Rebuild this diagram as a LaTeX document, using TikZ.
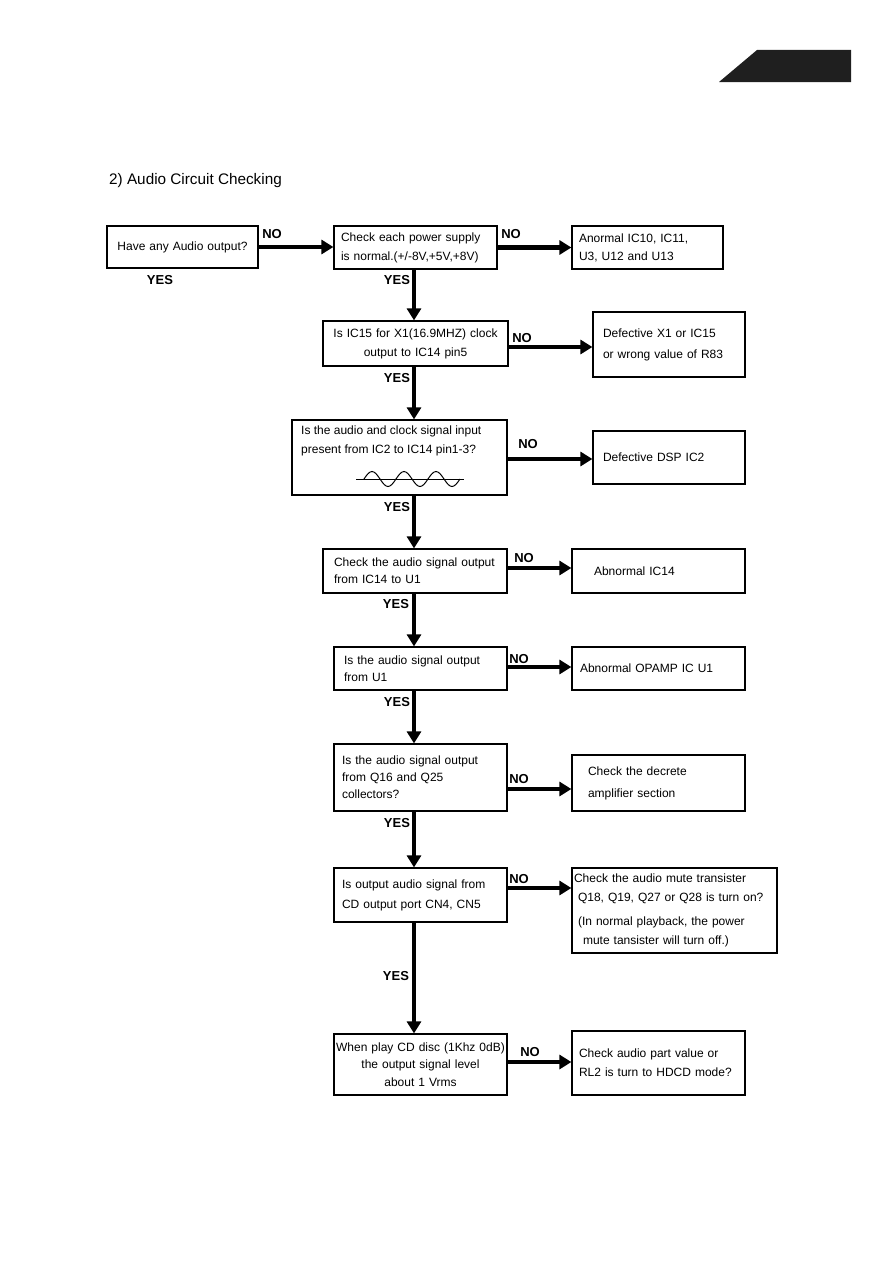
\documentclass[tikz,border=0pt]{standalone}
\usepackage{fontspec}
\setmainfont{Liberation Sans}
\usepackage{tikz}
\usetikzlibrary{arrows.meta, calc}

\begin{document}
\begin{tikzpicture}[
        x=1pt, y=-1pt,
        box/.style={draw, rectangle, line width=1.2pt, align=left, inner ysep=0pt, font=\fontsize{12}{18}\selectfont},
        ctrbox/.style={box, align=center},
        flow/.style={-{Triangle[length=12pt, width=14pt]}, line width=4.5pt},
        ans/.style={font=\fontsize{13}{13}\selectfont\bfseries, inner sep=0pt},
        title/.style={font=\fontsize{15.3}{18}\selectfont, inner sep=0pt}
    ]
    \useasboundingbox (0,0) rectangle (893,1263);

    % --- page tab and heading ---
    \fill[black!88] (719,82) -- (757,50) -- (851,50) -- (851,82) -- cycle;
    \node[title, anchor=base west] (heading) at (109,184) {2) Audio Circuit Checking};
    \coordinate (spine) at (414,0);

    % --- power ---
    \node[ctrbox, text width=141pt, inner xsep=5pt, minimum height=42pt] (anyout) at (182.5,247) {Have any Audio output?};
    \node[box, text width=149pt, inner xsep=7pt, minimum height=43pt, font=\fontsize{12}{19}\selectfont] (chkpwr) at (415.5,247.5) {Check each power supply\\is normal.(+/-8V,+5V,+8V)};
    \node[box, text width=137pt, inner xsep=7pt, minimum height=43pt] (badpwr) at (647.5,247.5) {Anormal IC10, IC11,\\U3, U12 and U13};
    \draw[flow] (anyout.east) -- (anyout.east -| chkpwr.west);
    \draw[flow] (chkpwr.east) -- (chkpwr.east -| badpwr.west);
    \node[ans] (no1) at (272,234) {NO};
    \node[ans] (no2) at (511,234) {NO};
    \node[ans] (yes0) at (160,280) {YES};
    \node[ans] (yes1) at (397,280) {YES};

    % --- clock ---
    \node[ctrbox, text width=173pt, inner xsep=6pt, minimum height=45pt, font=\fontsize{12}{19}\selectfont] (clkout) at (415.5,343.5) {Is IC15 for X1(16.9MHZ) clock\\output to IC14 pin5};
    \node[box, text width=132pt, inner xsep=10pt, minimum height=65pt, font=\fontsize{12}{21}\selectfont] (badclk) at (669,344.5) {Defective X1 or IC15\\or wrong value of R83};
    \draw[flow] (chkpwr.south -| spine) -- (clkout.north -| spine);
    \draw[flow] ([yshift=-3.5pt]clkout.east) -- ([yshift=-3.5pt]clkout.east -| badclk.west);
    \node[ans] (no3) at (522,338) {NO};
    \node[ans] (yes2) at (397,378) {YES};

    % --- signal input ---
    \node[box, minimum width=215pt, minimum height=75pt] (sigin) at (399.5,457.5) {};
    \node[anchor=north west, align=left, inner sep=0pt, font=\fontsize{12}{19}\selectfont] (sigintxt) at (301,426) {Is the audio and clock signal input\\present from IC2 to IC14 pin1-3?};
    \draw[line width=1pt] (356,479) -- (464,479);
    \foreach \k in {0,1,2}
        \draw[line width=1pt] (364+32*\k,479) sin ++(8,-7.5) cos ++(8,7.5) sin ++(8,7.5) cos ++(8,-7.5);
    \node[box, text width=132pt, inner xsep=10pt, minimum height=53pt] (baddsp) at (669,457.5) {Defective DSP IC2};
    \draw[flow] (clkout.south -| spine) -- (sigin.north -| spine);
    \draw[flow] ([yshift=-1.5pt]sigin.east) -- ([yshift=-1.5pt]sigin.east -| baddsp.west);
    \node[ans] (no4) at (528,444) {NO};
    \node[ans] (yes3) at (397,507) {YES};

    % --- IC14 output ---
    \node[box, text width=162pt, inner xsep=11pt, minimum height=44pt, font=\fontsize{12}{17}\selectfont] (sigout) at (415,571) {Check the audio signal output\\from IC14 to U1};
    \node[box, text width=129pt, inner xsep=22pt, minimum height=44pt] (badic) at (658.5,571) {Abnormal IC14};
    \draw[flow] (sigin.south -| spine) -- (sigout.north -| spine);
    \draw[flow] ([yshift=3pt]sigout.east) -- ([yshift=3pt]sigout.east -| badic.west);
    \node[ans] (no5) at (524,558) {NO};
    \node[ans] (yes4) at (396,604) {YES};

    % --- U1 output ---
    \node[box, text width=153pt, inner xsep=10pt, minimum height=43pt, font=\fontsize{12}{17}\selectfont] (opout) at (420.5,668.5) {Is the audio signal output\\from U1};
    \node[box, text width=157pt, inner xsep=8pt, minimum height=43pt] (badop) at (658.5,668.5) {Abnormal OPAMP IC U1};
    \draw[flow] (sigout.south -| spine) -- (opout.north -| spine);
    \draw[flow] ([yshift=1.5pt]opout.east) -- ([yshift=1.5pt]opout.east -| badop.west);
    \node[ans] (no6) at (519,659) {NO};
    \node[ans] (yes5) at (397,702) {YES};

    % --- collectors ---
    \node[box, text width=157pt, inner xsep=8pt, minimum height=67pt, font=\fontsize{12}{17}\selectfont] (colout) at (420.5,777.5) {Is the audio signal output\\from Q16 and Q25\\collectors?};
    \node[box, text width=141pt, inner xsep=16pt, minimum height=56pt, font=\fontsize{12}{22}\selectfont] (discamp) at (658.5,783) {Check the decrete\\amplifier section};
    \draw[flow] (opout.south -| spine) -- (colout.north -| spine);
    \draw[flow] ([yshift=-11.5pt]colout.east) -- ([yshift=-11.5pt]colout.east -| discamp.west);
    \node[ans] (no7) at (519,779) {NO};
    \node[ans] (yes6) at (397,823) {YES};

    % --- output port ---
    \node[box, text width=157pt, inner xsep=8pt, minimum height=54pt, font=\fontsize{12}{20}\selectfont] (cnout) at (420.5,895) {Is output audio signal from\\CD output port CN4, CN5};
    \node[box, text width=201pt, inner xsep=2pt, minimum height=85pt, font=\fontsize{12}{19.5}\selectfont] (mute) at (674.5,910.5) {Check the audio mute transister\\\hspace*{4pt}Q18, Q19, Q27 or Q28 is turn on?\\[4pt]\hspace*{4pt}(In normal playback, the power\\\hspace*{9pt}mute tansister will turn off.)};
    \draw[flow] (colout.south -| spine) -- (cnout.north -| spine);
    \draw[flow] ([yshift=7pt]cnout.east) -- ([yshift=7pt]cnout.east -| mute.west);
    \node[ans] (no8) at (519,879) {NO};
    \node[ans] (yes7) at (396,976) {YES};

    % --- output level ---
    \node[ctrbox, text width=169pt, inner xsep=2pt, minimum height=61pt, font=\fontsize{12}{17.5}\selectfont] (level) at (420.5,1064.5) {When play CD disc (1Khz 0dB)\\the output signal level\\about 1 Vrms};
    \node[box, text width=159pt, inner xsep=7pt, minimum height=64pt, font=\fontsize{12}{19}\selectfont] (hdcd) at (658.5,1063) {Check audio part value or\\RL2 is turn to HDCD mode?};
    \draw[flow] (cnout.south -| spine) -- (level.north -| spine);
    \draw[flow] ([yshift=2.5pt]level.east) -- ([yshift=2.5pt]level.east -| hdcd.west);
    \node[ans] (no9) at (530,1052) {NO};

\end{tikzpicture}
\end{document}
